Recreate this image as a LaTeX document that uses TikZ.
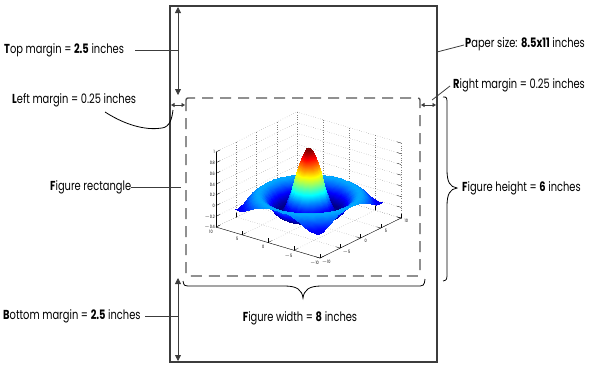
\documentclass[tikz,border=0pt]{standalone}
\usepackage{fontspec}
\setmainfont{Poppins}[FakeStretch=0.76]
\usepackage{pgfplots}
\pgfplotsset{compat=1.18}
\usetikzlibrary{arrows.meta}
\definecolor{ink}{RGB}{60,60,60}
\definecolor{dashc}{RGB}{85,85,85}
\tikzset{
 lbl/.style={font=\fontsize{13}{15}\selectfont, inner sep=0pt, anchor=west, text=black},
 guide/.style={draw=ink, line width=0.8pt},
 dimarrow/.style={draw=ink, line width=0.8pt, {Triangle[length=6pt,width=6pt]}-{Triangle[length=6pt,width=6pt]}},
 smallarrow/.style={draw=ink, line width=0.6pt, {Triangle[length=3.5pt,width=4pt]}-{Triangle[length=3.5pt,width=4pt]}},
 paper/.style={draw=ink, line width=1.3pt},
 figrect/.style={draw=dashc, line width=1.4pt, dash pattern=on 11pt off 7pt, rounded corners=2pt},
 bracec/.style={draw=black, line width=0.8pt},
 plotaxis/.style={draw=black, line width=0.4pt},
}
\begin{document}
\begin{tikzpicture}
\begin{axis}[
  name=plot,
  at={(308.5pt,-201.1pt)}, anchor=origin,
  x={(4.05pt,2.0pt)}, y={(-5.2pt,1.55pt)}, z={(0pt,53.6pt)},
  xmin=-10,xmax=10,ymin=-10,ymax=10,zmin=-0.4,zmax=1,
  xtick={-10,-5,0,5,10}, ytick={-10,-5,0,5,10},
  ztick={-0.4,-0.2,0,0.2,0.4,0.6,0.8,1},
  zticklabels={$-$0.4,$-$0.2,0,0.2,0.4,0.6,0.8,1},
  xticklabels={$-$10,$-$5,0,5,10}, yticklabels={$-$10,$-$5,0,5,10},
  tick pos=left,
  grid=major, grid style={dotted, gray, line width=0.4pt},
  axis line style={draw=none},
  tick style={black, line width=0.3pt},
  tick label style={font=\fontsize{4.5}{5}\selectfont, inner sep=1pt},
  xticklabel style={xshift=3pt},
  yticklabel style={xshift=-3pt, yshift=-1.5pt},
  colormap/jet,
  clip=false,
]
\addplot3[surf, shader=interp, domain=-8:8, y domain=-8:8, samples=41]
  {sin(deg(sqrt(x^2+y^2)+0.0001))/(sqrt(x^2+y^2)+0.0001)};
\coordinate (cF) at (axis cs:-10,-10,-0.4);
\coordinate (cR) at (axis cs:10,-10,-0.4);
\coordinate (cL) at (axis cs:-10,10,-0.4);
\coordinate (cT) at (axis cs:-10,10,1);
\draw[plotaxis] (cL) -- (cF) -- (cR);
\draw[plotaxis] (cL) -- (cT);
\end{axis}
\begin{scope}[x=1pt,y=-1pt]
\useasboundingbox (0,0) rectangle (601,368);
% paper
\draw[paper] (170,6) rectangle (437,362);
\coordinate (pTR) at (437,52);
% figure rectangle
\draw[figrect] (186,98) rectangle (420,276);
% top margin
\coordinate (tmA) at (178,7);
\coordinate (tmB) at (178,95);
\draw[dimarrow] (tmA) -- (tmB);
\node[lbl] (toptxt) at (4,50) {\textbf{T}op margin = \textbf{2.5} inches};
\coordinate (tmL) at (135,50);
\coordinate (tmR) at (178,50);
\draw[guide] (tmL) -- (tmR);
% left margin
\coordinate (lmA) at (171,105);
\coordinate (lmB) at (185,105);
\draw[smallarrow] (lmA) -- (lmB);
\node[lbl] (lefttxt) at (12,100) {\textbf{L}eft margin = 0.25 inches};
\coordinate (lmS) at (105,112);
\coordinate (lmE) at (173,110);
\draw[bracec] (lmS) .. controls (130,128) and (150,130) .. (162,128) .. controls (170,127) and (172,118) .. (lmE);
% right margin
\coordinate (rmA) at (421,105);
\coordinate (rmB) at (436,105);
\draw[smallarrow] (rmA) -- (rmB);
\coordinate (rmP) at (432,100);
\coordinate (rmQ) at (450,86);
\draw[guide] (rmP) -- (rmQ);
\node[lbl] (righttxt) at (453,85) {\textbf{R}ight margin = 0.25 inches};
% paper size
\coordinate (psQ) at (464,45);
\draw[guide] (pTR) -- (psQ);
\node[lbl] (papertxt) at (465,44) {\textbf{P}aper size: \textbf{8.5x11} inches};
% figure rectangle label
\node[lbl] (figtxt) at (50,187) {\textbf{F}igure rectangle};
\coordinate (frR) at (181,187);
\draw[guide] (figtxt.east) -- (frR);
% figure height brace
\draw[bracec] (443,97) .. controls (447,97) .. (447,105) -- (447,170)
  .. controls (447,182) and (450,187) .. (457,188)
  .. controls (450,189) and (447,194) .. (447,206) -- (447,272)
  .. controls (447,280) .. (443,281);
\node[lbl] (heighttxt) at (462,188) {\textbf{F}igure height = \textbf{6} inches};
% figure width brace
\draw[bracec] (183,281) .. controls (184,286) .. (192,286) -- (285,286)
  .. controls (297,286) and (302,290) .. (303,298)
  .. controls (304,290) and (309,286) .. (321,286) -- (416,286)
  .. controls (424,286) .. (425,279);
\node[lbl, anchor=center] (widthtxt) at (300,318) {\textbf{F}igure width = \textbf{8} inches};
% bottom margin
\coordinate (bmA) at (178,278);
\coordinate (bmB) at (178,361);
\draw[dimarrow] (bmA) -- (bmB);
\node[lbl] (bottomtxt) at (3,316) {\textbf{B}ottom margin = \textbf{2.5} inches};
\coordinate (bmL) at (145,316);
\coordinate (bmR) at (179,316);
\draw[guide] (bmL) -- (bmR);
\end{scope}
\end{tikzpicture}
\end{document}
